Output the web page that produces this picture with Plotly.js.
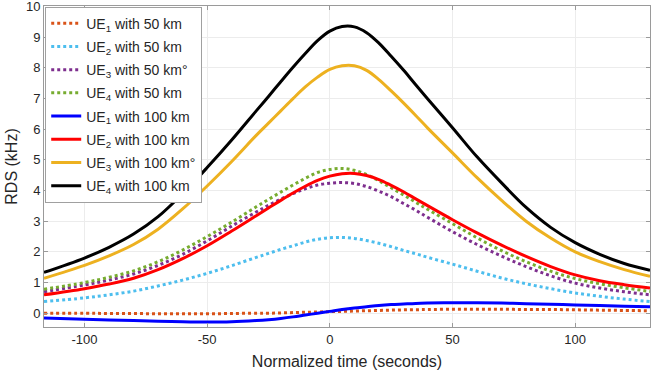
<!DOCTYPE html>
<html>
<head>
<meta charset="utf-8">
<script src="https://cdn.plot.ly/plotly-3.0.1.min.js"></script>
<style>html,body{margin:0;padding:0;background:#fff;}#chart{width:651px;height:377px;}</style>
</head>
<body>
<div id="chart"></div>
<script>
// Normalized time (seconds)
const timeS = [-116.5,-100,-90,-80,-70,-60,-50,-40,-30,-25,-20,-15,-10,-5,0,5,10,15,20,25,30,35,40,50,60,70,80,90,100,110,120,130.5];

// RDS (kHz) per series
const ue1_50  = [0.0,0.0,-0.01,-0.01,-0.02,-0.02,-0.02,-0.01,0.0,0.0,0.01,0.02,0.03,0.04,0.05,0.06,0.07,0.08,0.09,0.1,0.11,0.115,0.12,0.13,0.13,0.13,0.12,0.12,0.11,0.1,0.09,0.08];
const ue2_50  = [0.38,0.5,0.6,0.72,0.89,1.08,1.3,1.55,1.82,1.95,2.08,2.2,2.32,2.41,2.46,2.47,2.44,2.37,2.28,2.17,2.05,1.94,1.82,1.6,1.37,1.15,0.96,0.8,0.66,0.55,0.46,0.38];
const ue3_50  = [0.7,0.92,1.08,1.28,1.56,1.92,2.36,2.84,3.3,3.52,3.72,3.9,4.06,4.18,4.24,4.26,4.23,4.13,3.98,3.8,3.58,3.36,3.12,2.66,2.24,1.86,1.52,1.22,0.98,0.82,0.7,0.6];
const ue4_50  = [0.78,1.0,1.17,1.38,1.68,2.06,2.5,2.97,3.47,3.71,3.95,4.18,4.4,4.59,4.69,4.72,4.66,4.52,4.32,4.09,3.86,3.62,3.38,2.92,2.46,2.04,1.68,1.37,1.13,0.96,0.83,0.71];
const ue1_100 = [-0.16,-0.2,-0.22,-0.24,-0.26,-0.28,-0.29,-0.28,-0.24,-0.21,-0.17,-0.12,-0.06,0.0,0.06,0.12,0.17,0.21,0.25,0.28,0.3,0.32,0.33,0.34,0.34,0.33,0.31,0.29,0.27,0.25,0.23,0.21];
const ue2_100 = [0.6,0.8,0.95,1.14,1.42,1.78,2.2,2.68,3.18,3.43,3.68,3.92,4.14,4.33,4.47,4.55,4.56,4.49,4.36,4.17,3.96,3.73,3.5,3.05,2.62,2.22,1.85,1.52,1.25,1.06,0.93,0.82];
const ue3_100 = [1.14,1.56,1.87,2.24,2.74,3.4,4.15,4.95,5.8,6.2,6.6,7.0,7.38,7.7,7.95,8.07,8.07,7.92,7.62,7.25,6.86,6.45,6.03,5.23,4.42,3.68,3.0,2.45,2.0,1.68,1.42,1.2];
const ue4_100 = [1.33,1.8,2.15,2.58,3.15,3.9,4.75,5.65,6.6,7.07,7.55,8.02,8.47,8.89,9.2,9.35,9.34,9.15,8.81,8.38,7.93,7.45,6.98,6.05,5.1,4.25,3.45,2.8,2.3,1.92,1.62,1.4];

const seriesNames = [
  'UE<sub>1</sub> with 50 km',
  'UE<sub>2</sub> with 50 km',
  'UE<sub>3</sub> with 50 km°',
  'UE<sub>4</sub> with 50 km',
  'UE<sub>1</sub> with 100 km',
  'UE<sub>2</sub> with 100 km',
  'UE<sub>3</sub> with 100 km°',
  'UE<sub>4</sub> with 100 km'
];
const seriesData = [ue1_50, ue2_50, ue3_50, ue4_50, ue1_100, ue2_100, ue3_100, ue4_100];
const seriesColors = ['#D95319','#4DBEEE','#7E2F8E','#77AC30','#0000FF','#FF0000','#EDB120','#000000'];
const seriesDash = ['dot','dot','dot','dot','solid','solid','solid','solid'];

const traces = seriesData.map((y, i) => ({
  type: 'scatter',
  mode: 'lines',
  x: timeS,
  y: y,
  name: seriesNames[i],
  legendgroup: 'g' + i,
  line: {color: seriesColors[i], width: 3, dash: seriesDash[i], shape: 'spline', smoothing: 1}
}));

const font = {family: 'Liberation Sans, Arial, sans-serif', color: '#262626'};

const layout = {
  width: 651,
  height: 377,
  margin: {l: 44, r: 1, t: 6, b: 50},
  paper_bgcolor: '#ffffff',
  plot_bgcolor: '#ffffff',
  font: Object.assign({size: 13}, font),
  showlegend: true,
  legend: {
    x: 0.002, y: 0.998, xanchor: 'left', yanchor: 'top',
    bgcolor: '#ffffff', bordercolor: '#a0a0a0', borderwidth: 1,
    font: Object.assign({size: 14}, font),
    tracegroupgap: 2,
    itemwidth: 30
  },
  xaxis: {
    range: [-116.5, 130.5],
    tickvals: [-100, -50, 0, 50, 100],
    ticktext: ['-100', '-50', '0', '50', '100'],
    showgrid: true, gridcolor: '#ececec', gridwidth: 1,
    zeroline: false,
    showline: true, linecolor: '#9a9a9a', linewidth: 1, mirror: 'ticks',
    ticks: 'inside', ticklen: 4, tickcolor: '#9a9a9a',
    ticklabeloverflow: 'allow',
    tickfont: Object.assign({size: 13}, font),
    title: {text: 'Normalized time (seconds)', font: Object.assign({size: 16}, font), standoff: 10}
  },
  yaxis: {
    range: [-0.45, 10.02],
    tickvals: [0,1,2,3,4,5,6,7,8,9,10],
    ticktext: ['0','1','2','3','4','5','6','7','8','9','10'],
    showgrid: true, gridcolor: '#ececec', gridwidth: 1,
    zeroline: false,
    showline: true, linecolor: '#9a9a9a', linewidth: 1, mirror: 'ticks',
    ticks: 'inside', ticklen: 4, tickcolor: '#9a9a9a',
    ticklabeloverflow: 'allow',
    tickfont: Object.assign({size: 13}, font),
    title: {text: 'RDS (kHz)', font: Object.assign({size: 16}, font), standoff: 4}
  }
};

Plotly.newPlot('chart', traces, layout, {displayModeBar: false, staticPlot: true});
</script>
</body>
</html>
